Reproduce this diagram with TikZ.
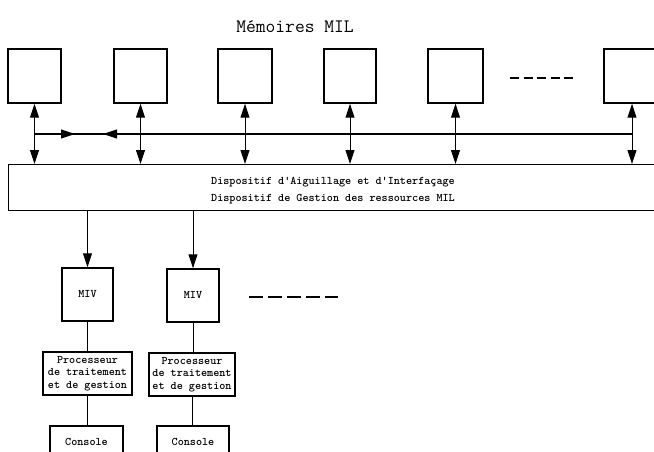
\documentclass[tikz,border=0pt]{standalone}
\usetikzlibrary{arrows.meta}
\begin{document}
\begin{tikzpicture}[x=1pt,y=-1pt,
  box/.style={draw, line width=1.4pt, inner sep=0pt},
  lbl/.style={font=\ttfamily\bfseries\fontsize{11.6}{12.5}\selectfont, align=center, inner sep=0pt},
  tip/.tip={Triangle[length=14pt,width=9pt]},
  arr/.style={line width=1pt, -tip},
  darr/.style={line width=1pt, tip-tip},
  link/.style={line width=1pt},
  bus/.style={line width=1.3pt},
  dots/.style={line width=1.4pt}]
\useasboundingbox (0,0) rectangle (654,452);
\clip (0,0) rectangle (654,452);
\node[font=\ttfamily\fontsize{19}{19}\selectfont, inner sep=0pt] (title) at (295,27) {Mémoires MIL};
% top memory boxes
\node[box, minimum width=53pt, minimum height=54pt] (m1) at (34.5,76) {};
\node[box, minimum width=53pt, minimum height=54pt] (m2) at (140.5,76) {};
\node[box, minimum width=54pt, minimum height=54pt] (m3) at (245,76) {};
\node[box, minimum width=52pt, minimum height=54pt] (m4) at (350,76) {};
\node[box, minimum width=55pt, minimum height=54pt] (m5) at (455.5,76) {};
\node[box, minimum width=56pt, minimum height=54pt] (m6) at (632,76) {};
\coordinate (d1) at (510,78);
\coordinate (d2) at (573,78);
\draw[dots, dash pattern=on 9pt off 4.5pt] (d1) -- (d2);
% big box
\node[box, anchor=north west, minimum width=670pt, minimum height=46pt] (disp) at (8,164) {};
\node[lbl] (t1) at (333,182) {Dispositif d'Aiguillage et d'Interfaçage};
\node[lbl] (t2) at (333,199) {Dispositif de Gestion des ressources MIL};
% vertical arrows
\foreach \i in {1,...,6} \draw[darr] (m\i.south) -- (m\i.south |- disp.north);
% horizontal bus
\coordinate (hy) at (0,134);
\coordinate (h1) at (m1.south |- hy);
\coordinate (h6) at (m6.south |- hy);
\coordinate (ha) at (75,134);
\coordinate (hb) at (103,134);
\draw[bus] (h1) -- (h6);
\draw[arr] (h1) -- (ha);
\draw[arr] (h6) -- (hb);
% MIV
\node[box, lbl, minimum width=51pt, minimum height=53pt] (v1) at (87.5,294.5) {MIV};
\node[box, lbl, minimum width=52pt, minimum height=53pt] (v2) at (193,295.5) {MIV};
\draw[arr] (v1.north |- disp.south) -- (v1.north);
\draw[arr] (v2.north |- disp.south) -- (v2.north);
\coordinate (d3) at (249,297);
\coordinate (d4) at (338,297);
\draw[dots, dash pattern=on 14pt off 5pt] (d3) -- (d4);
% processors
\node[box, lbl, minimum width=89pt, minimum height=43pt] (p1) at (87.5,373.5) {Processeur\\de traitement\\et de gestion};
\node[box, lbl, minimum width=86pt, minimum height=43pt] (p2) at (192,374.5) {Processeur\\de traitement\\et de gestion};
\draw[link] (v1.south) -- (v1.south |- p1.north);
\draw[link] (v2.south) -- (v2.south |- p2.north);
% consoles
\node[box, lbl, minimum width=73pt, minimum height=32pt] (c1) at (86.5,442) {Console};
\node[box, lbl, minimum width=72pt, minimum height=32pt] (c2) at (193,442) {Console};
\draw[link] (p1.south) -- (p1.south |- c1.north);
\draw[link] (p2.south) -- (p2.south |- c2.north);
\end{tikzpicture}
\end{document}
